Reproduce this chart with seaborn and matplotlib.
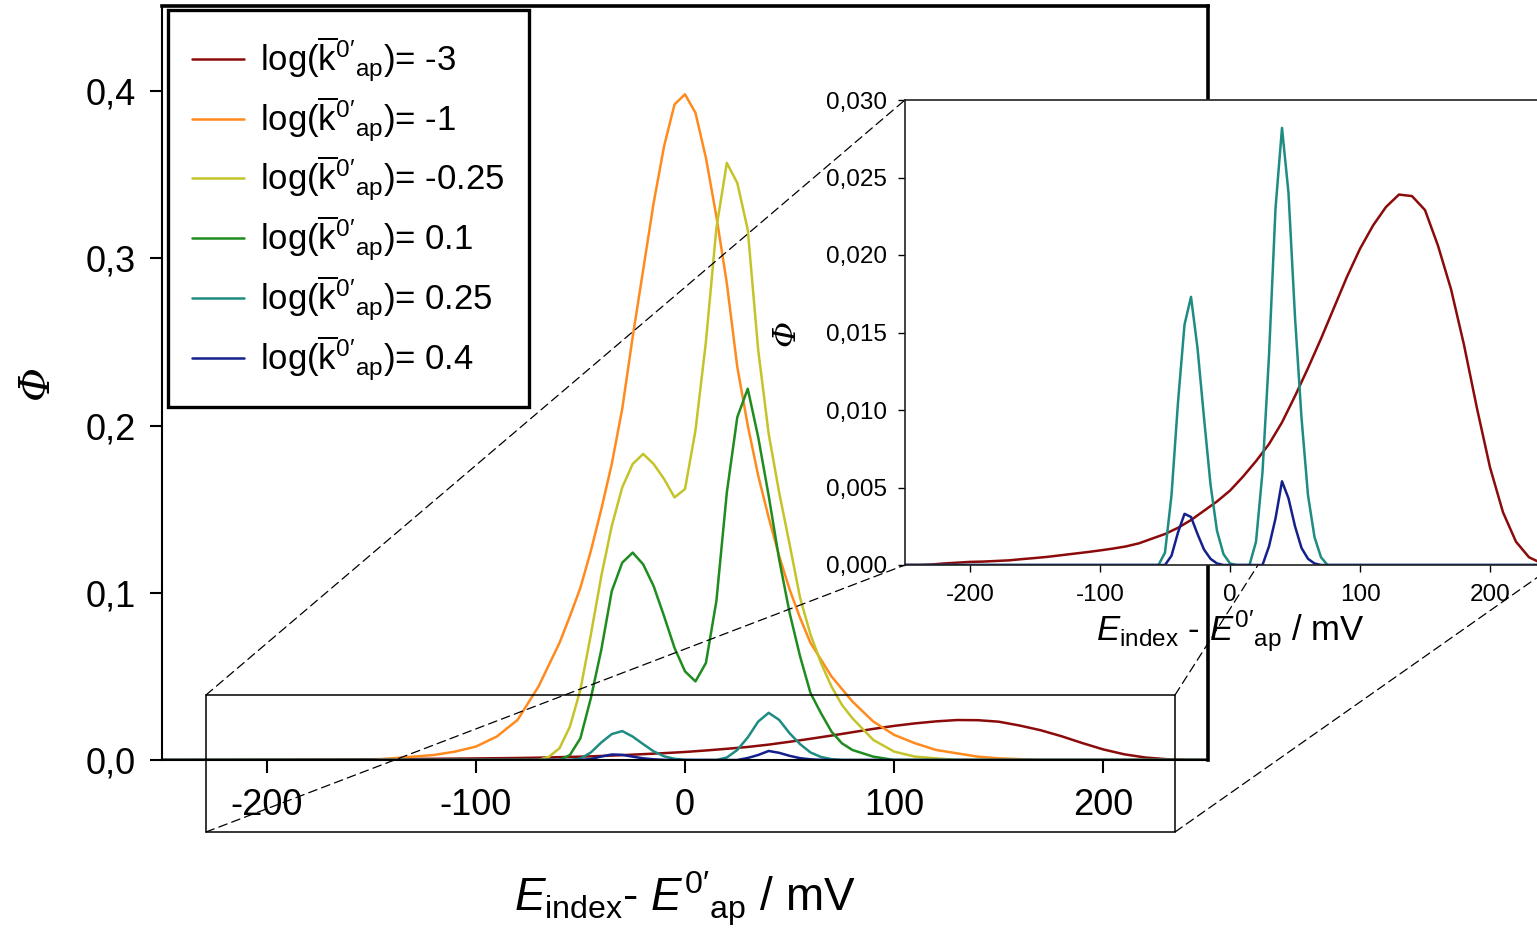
import numpy as np
import pandas as pd
import matplotlib
matplotlib.use("Agg")
import matplotlib.pyplot as plt
import seaborn as sns
from matplotlib.patches import Rectangle, ConnectionPatch

# ---------------- data ----------------
x_red = [-250, -240, -230, -220, -210, -200, -190, -180, -170, -160, -150, -140, -130, -120,
         -110, -100, -90, -80, -70, -60, -50, -40, -30, -20, -10, 0, 10, 20, 30, 40, 50, 60,
         70, 80, 90, 100, 110, 120, 130, 140, 150, 160, 170, 180, 190, 200, 210, 220, 230,
         240, 250]
phi_red = [0, 0, 0.00003, 0.0001, 0.00015, 0.0002, 0.00022, 0.00026, 0.0003, 0.00038,
           0.00045, 0.00053, 0.00063, 0.00073, 0.00083, 0.00094, 0.00106, 0.0012, 0.0014,
           0.0017, 0.0020, 0.0024, 0.0029, 0.0035, 0.0041, 0.0048, 0.0057, 0.0067, 0.0078,
           0.0092, 0.0109, 0.0127, 0.0146, 0.0166, 0.0186, 0.0204, 0.0219, 0.0231, 0.0239,
           0.0238, 0.0229, 0.0206, 0.0178, 0.0142, 0.0101, 0.0063, 0.0034, 0.0015, 0.0005,
           0.0001, 0]

x_orange = [-250, -150, -140, -130, -120, -110, -100, -90, -80, -70, -60, -55, -50, -45, -40,
            -35, -30, -25, -20, -15, -10, -5, 0, 5, 10, 15, 20, 25, 30, 35, 40, 45, 50, 55,
            60, 70, 80, 90, 100, 110, 120, 130, 140, 150, 160, 170, 250]
phi_orange = [0, 0, 0.001, 0.002, 0.003, 0.005, 0.008, 0.014, 0.024, 0.044, 0.070, 0.086,
              0.103, 0.125, 0.150, 0.177, 0.210, 0.253, 0.293, 0.333, 0.367, 0.392, 0.398,
              0.387, 0.360, 0.325, 0.285, 0.235, 0.200, 0.170, 0.145, 0.122, 0.102, 0.085,
              0.070, 0.050, 0.035, 0.023, 0.015, 0.010, 0.006, 0.004, 0.002, 0.001, 0.0005,
              0, 0]

x_yellow = [-250, -70, -65, -60, -55, -50, -45, -40, -35, -30, -25, -20, -15, -10, -5, 0, 5,
            10, 15, 20, 25, 30, 35, 40, 45, 50, 55, 60, 65, 70, 75, 80, 90, 100, 110, 120,
            130, 250]
phi_yellow = [0, 0, 0.002, 0.007, 0.020, 0.042, 0.075, 0.110, 0.140, 0.163, 0.177, 0.183,
              0.177, 0.168, 0.157, 0.162, 0.197, 0.250, 0.318, 0.357, 0.345, 0.317, 0.245,
              0.195, 0.160, 0.129, 0.097, 0.075, 0.058, 0.044, 0.033, 0.025, 0.012, 0.005,
              0.002, 0.001, 0, 0]

x_green = [-250, -60, -55, -50, -45, -40, -35, -30, -25, -20, -15, -10, -5, 0, 5, 10, 15,
           20, 25, 30, 35, 40, 45, 50, 55, 60, 65, 70, 75, 80, 90, 100, 250]
phi_green = [0, 0, 0.003, 0.013, 0.037, 0.066, 0.101, 0.118, 0.124, 0.117, 0.104, 0.086,
             0.067, 0.053, 0.047, 0.058, 0.095, 0.160, 0.205, 0.222, 0.193, 0.158, 0.120,
             0.088, 0.062, 0.040, 0.028, 0.017, 0.010, 0.006, 0.002, 0, 0]

x_teal = [-250, -55, -50, -45, -40, -35, -30, -25, -20, -15, -10, -5, 0, 5, 15, 20, 25, 30,
          35, 40, 45, 50, 55, 60, 65, 70, 75, 250]
phi_teal = [0, 0, 0.0008, 0.0045, 0.0105, 0.0155, 0.0173, 0.0140, 0.0095, 0.0052, 0.0022,
            0.0007, 0.0001, 0, 0, 0.0015, 0.0060, 0.0135, 0.0230, 0.0282, 0.0240, 0.0160,
            0.0095, 0.0045, 0.0018, 0.0005, 0, 0]

x_blue = [-250, -50, -45, -40, -35, -30, -25, -20, -15, -10, -5, 25, 30, 35, 40, 45, 50, 55,
          60, 65, 70, 250]
phi_blue = [0, 0, 0.0006, 0.0021, 0.0033, 0.0031, 0.0020, 0.0010, 0.0004, 0.0001, 0, 0,
            0.0012, 0.0030, 0.0054, 0.0043, 0.0025, 0.0011, 0.0004, 0.0001, 0, 0]

legend_values = ["-3", "-1", "-0.25", "0.1", "0.25", "0.4"]
main_yticks = [0.0, 0.1, 0.2, 0.3, 0.4]
main_yticklabels = ["0,0", "0,1", "0,2", "0,3", "0,4"]
main_xticks = [-200, -100, 0, 100, 200]
inset_yticks = [0.0, 0.005, 0.010, 0.015, 0.020, 0.025, 0.030]
inset_yticklabels = ["0,000", "0,005", "0,010", "0,015", "0,020", "0,025", "0,030"]
inset_xticks = [-200, -100, 0, 100, 200]

colors = ["#8B0A0A", "#FF8A1E", "#C4C42A", "#1E8C1E", "#1E8C82", "#14208C"]

series = [(x_red, phi_red), (x_orange, phi_orange), (x_yellow, phi_yellow),
          (x_green, phi_green), (x_teal, phi_teal), (x_blue, phi_blue)]

# ---------------- style ----------------
sns.set_theme(style="white")
plt.rcParams["font.family"] = ["Liberation Sans", "DejaVu Sans"]
plt.rcParams["mathtext.fontset"] = "custom"
plt.rcParams["mathtext.rm"] = "Liberation Sans"
plt.rcParams["mathtext.it"] = "Liberation Sans:italic"
plt.rcParams["mathtext.bf"] = "Liberation Sans:bold"
plt.rcParams["axes.edgecolor"] = "black"
plt.rcParams["xtick.color"] = "black"
plt.rcParams["ytick.color"] = "black"
plt.rcParams["text.color"] = "black"
plt.rcParams["axes.labelcolor"] = "black"

W, H = 1537, 936
fig = plt.figure(figsize=(W / 100, H / 100), dpi=100)
fig.patch.set_facecolor("white")

# main axes (pixel box 162..1208 x 6..760)
ax = fig.add_axes([162 / W, (H - 760) / H, 1046 / W, 754 / H])
ax.set_zorder(0)
ax.set_facecolor("white")

labels = [r"log($\overline{\mathrm{k}}^{0\prime}{}_{\mathrm{ap}}$)= " + v for v in legend_values]
for (xs, ys), c in zip(series, colors):
    df = pd.DataFrame({"E": xs, "phi": ys})
    sns.lineplot(data=df, x="E", y="phi", ax=ax, color=c, linewidth=1.8,
                 estimator=None, sort=False, legend=False)

ax.set_xlim(-250, 250)
ax.set_ylim(0, 754 / 1672.5)
ax.set_xticks(main_xticks)
ax.set_xticklabels([str(t) for t in main_xticks])
ax.set_yticks(main_yticks)
ax.set_yticklabels(main_yticklabels)
ax.tick_params(axis="both", which="major", bottom=True, left=True, top=False, right=False,
               direction="out", length=9, width=1.5, labelsize=26)
ax.tick_params(axis="x", pad=11)
ax.tick_params(axis="y", pad=10)
for s in ["top", "right"]:
    ax.spines[s].set_linewidth(2.6)
for s in ["left", "bottom"]:
    ax.spines[s].set_linewidth(1.5)

ax.set_xlabel(r"$E_{\mathrm{index}}$- $E^{0\prime}{}_{\mathrm{ap}}$ / mV", fontsize=33)
ax.xaxis.set_label_coords(0.5, -0.146)
ax.set_ylabel("Φ", fontsize=30, fontstyle="italic", family=["DejaVu Serif"])
ax.yaxis.label.set_verticalalignment("center")
ax.yaxis.set_label_coords((36 - 162) / 1046, 0.5)

handles = ax.get_lines()[:6]
leg = ax.legend(handles, labels, loc="upper left", bbox_to_anchor=(168 / W, 1 - 10 / H),
                bbox_transform=fig.transFigure, borderaxespad=0, fontsize=25,
                frameon=True, fancybox=False, shadow=False, framealpha=1.0,
                handlelength=1.5, handletextpad=0.45, labelspacing=0.30, borderpad=0.7)
leg.get_frame().set_edgecolor("black")
leg.get_frame().set_linewidth(2.4)
for h in leg.get_lines():
    h.set_linewidth(1.8)

# zoom rectangle
rx0, rx1 = (206 - 685) / 2.092, (1175 - 685) / 2.092
ry0, ry1 = (760 - 832) / 1672.5, (760 - 695) / 1672.5
rect = Rectangle((rx0, ry0), rx1 - rx0, ry1 - ry0, transform=ax.transData, fill=False,
                 edgecolor="black", linewidth=1.1, clip_on=False, zorder=6)
ax.add_patch(rect)

# inset axes (pixel box 905..1555 x 100..565)
axins = fig.add_axes([905 / W, (H - 565) / H, 650 / W, 465 / H])
axins.set_zorder(3)
axins.set_facecolor("white")
for idx in [0, 4, 5]:
    xs, ys = series[idx]
    df = pd.DataFrame({"E": xs, "phi": ys})
    sns.lineplot(data=df, x="E", y="phi", ax=axins, color=colors[idx], linewidth=1.8,
                 estimator=None, sort=False, legend=False)
axins.set_xlim(-250, 250)
axins.set_ylim(0, 0.030)
axins.set_xticks(inset_xticks)
axins.set_xticklabels([str(t) for t in inset_xticks])
axins.set_yticks(inset_yticks)
axins.set_yticklabels(inset_yticklabels)
axins.tick_params(axis="both", bottom=True, left=True, direction="out", length=5,
                  width=1.0, labelsize=17.5)
axins.tick_params(axis="x", pad=9)
axins.tick_params(axis="y", pad=8)
for s in axins.spines.values():
    s.set_linewidth(1.2)
    s.set_edgecolor("#222222")
axins.set_xlabel(r"$E_{\mathrm{index}}$ - $E^{0\prime}{}_{\mathrm{ap}}$ / mV", fontsize=25)
axins.xaxis.set_label_coords(0.5, -0.095)
axins.set_ylabel("Φ", fontsize=23, fontstyle="italic", family=["DejaVu Serif"])
axins.yaxis.label.set_verticalalignment("center")
axins.yaxis.set_label_coords((786 - 905) / 650, 0.5)

# dashed connector lines between rectangle corners and inset corners
pairs = [((rx0, ry1), (-250, 0.030)), ((rx0, ry0), (-250, 0.0)),
         ((rx1, ry1), (250, 0.030)), ((rx1, ry0), (250, 0.0))]
for pa, pb in pairs:
    con = ConnectionPatch(xyA=pa, coordsA=ax.transData, xyB=pb, coordsB=axins.transData,
                          linestyle=(0, (7, 4)), linewidth=0.9, color="black")
    con.set_zorder(2)
    fig.add_artist(con)

fig.savefig("out.png", dpi=100, facecolor="white")
